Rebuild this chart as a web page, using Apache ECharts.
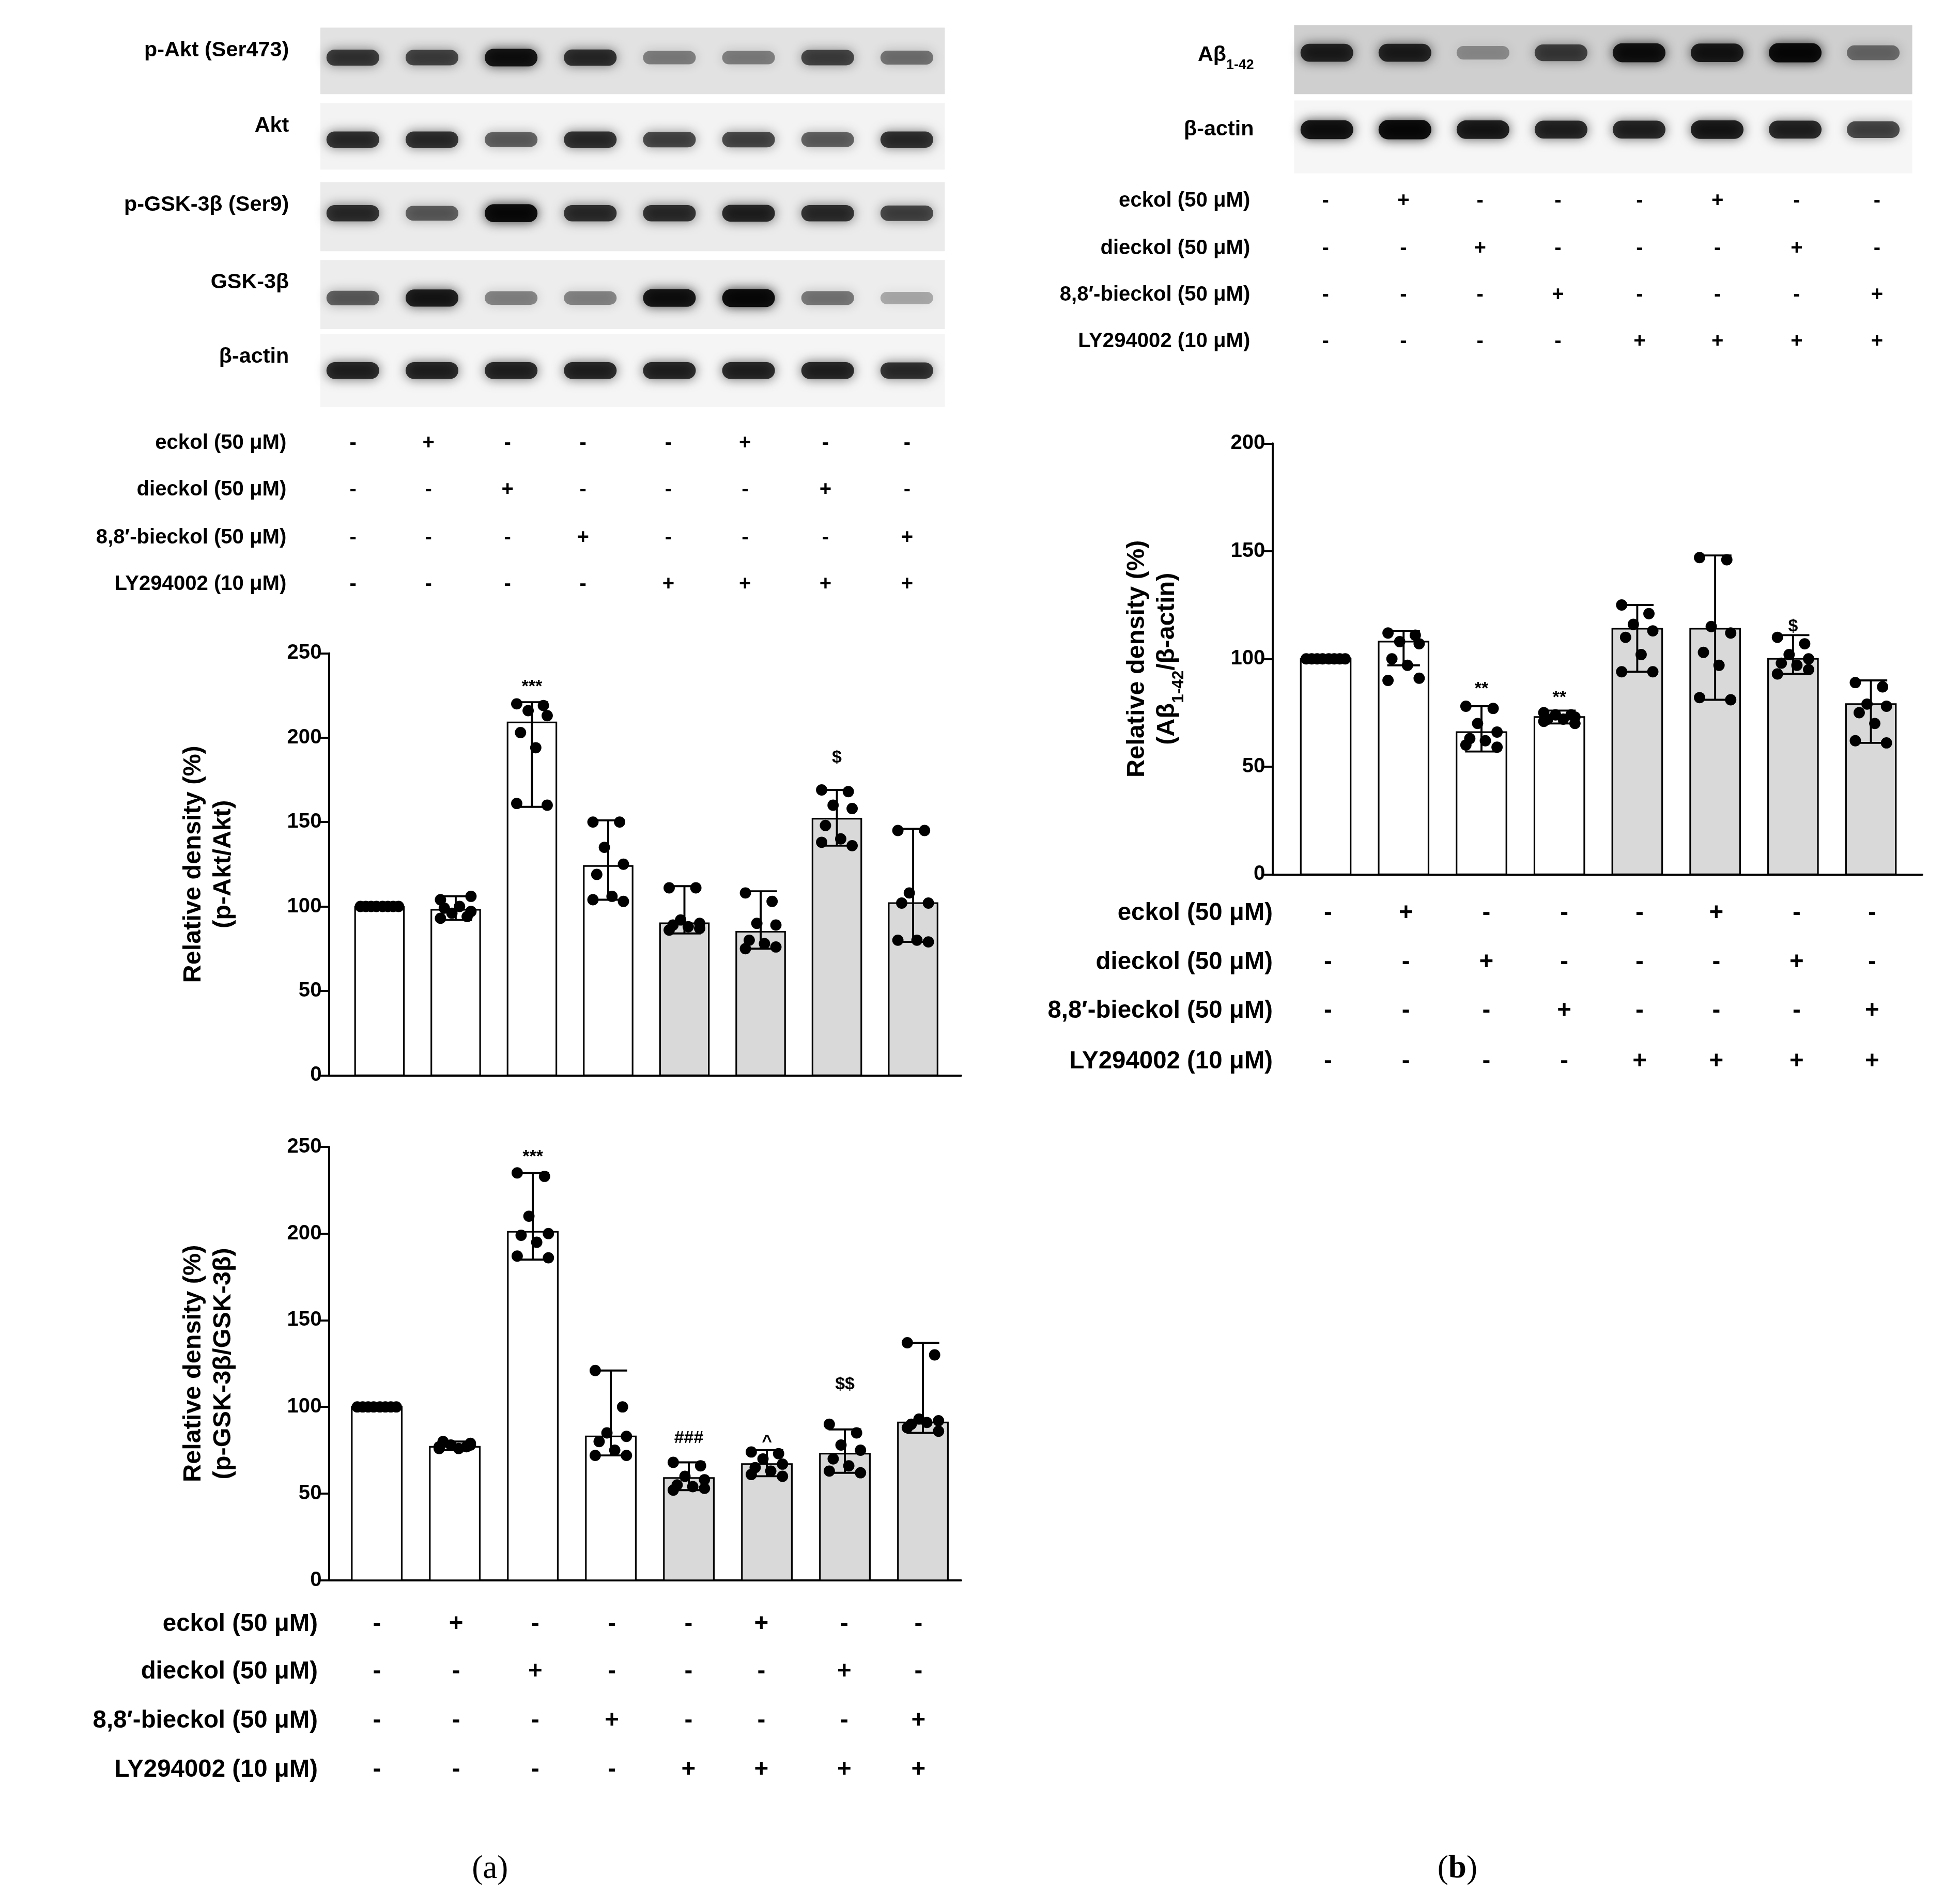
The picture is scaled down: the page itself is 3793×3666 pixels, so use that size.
<!DOCTYPE html>
<html><head><meta charset="utf-8">
<script src="https://cdn.jsdelivr.net/npm/echarts@6/dist/echarts.min.js"></script>
<style>html,body{margin:0;padding:0;background:#fff}#c{width:3793px;height:3666px}</style>
</head><body><div id="c"></div>
<script>
const S = 3793/1560;
const P = v => v*S;
// ---- data ----
const aktMeans = [100, 98, 209, 124, 90, 85, 152, 102];
const aktErr = [[100,100],[92,106],[159,221],[104,151],[84,112],[75,109],[136,169],[79,146]];
const aktPts = [
 [100,100,100,100,100,100,100,100],
 [93,94,96,97,99,100,104,106],
 [220,219,216,213,203,194,161,160],
 [150,150,135,125,119,106,104,103],
 [111,111,92,90,89,88,86,87],
 [108,103,90,89,80,78,75,76],
 [169,168,160,158,148,140,138,136],
 [145,145,108,102,102,80,80,79]];
const aktMarks = [[2,230,'***'],[6,188,'$']];

const gskMeans = [100, 77, 201, 83, 59, 67, 73, 91];
const gskErr = [[100,100],[75,80],[185,235],[72,121],[52,68],[60,75],[62,87],[85,137]];
const gskPts = [
 [100,100,100,100,100,100,100,100],
 [76,77,78,79,80,76,77,78],
 [235,233,210,200,199,195,187,186],
 [121,100,85,83,80,75,72,72],
 [68,66,60,58,55,54,52,53],
 [74,73,70,67,65,63,61,60],
 [90,85,78,75,70,66,63,62],
 [137,130,93,92,90,91,88,86]];
const gskMarks = [[2,244,'***'],[4,82,'###'],[5,80,'^'],[6,113,'$$']];

const abMeans = [100, 108, 66, 73, 114, 114, 100, 79];
const abErr = [[100,100],[97,113],[57,78],[70,76],[94,125],[81,148],[93,111],[61,90]];
const abPts = [
 [100,100,100,100,100,100,100,100],
 [112,111,108,107,100,97,90,91],
 [78,77,70,66,63,62,60,59],
 [75,74,74,73,72,72,71,70],
 [125,121,116,113,110,102,94,94],
 [147,146,115,112,103,97,82,81],
 [110,107,102,100,98,97,93,95],
 [89,87,79,78,75,70,62,61]];
const abMarks = [[2,86,'**'],[3,82,'**'],[6,115,'$']];

const treatLabels = ['eckol (50 μM)','dieckol (50 μM)','8,8′-bieckol (50 μM)','LY294002 (10 μM)'];
const treatRows = [
 ['-','+','-','-','-','+','-','-'],
 ['-','-','+','-','-','-','+','-'],
 ['-','-','-','+','-','-','-','+'],
 ['-','-','-','-','+','+','+','+']];

const blotNamesA = ['p-Akt (Ser473)','Akt','p-GSK-3β (Ser9)','GSK-3β','β-actin'];
const blotA = [
 [0.75,0.7,0.95,0.8,0.45,0.45,0.7,0.5],
 [0.8,0.8,0.6,0.8,0.7,0.7,0.6,0.8],
 [0.8,0.6,1,0.8,0.8,0.85,0.8,0.7],
 [0.6,0.9,0.45,0.45,0.95,1,0.5,0.3],
 [0.85,0.85,0.85,0.85,0.85,0.85,0.85,0.8]];
const blotNamesB = ['Aβ1-42','β-actin'];
const blotB = [
 [0.85,0.85,0.35,0.7,0.95,0.9,1,0.5],
 [0.95,1,0.9,0.85,0.85,0.9,0.85,0.7]];
// ---- layout (display units) ----
const jit = [-0.2,0.15,-0.05,0.2,-0.15,0.05,-0.2,0.2];
const jit0 = [-0.25,-0.18,-0.11,-0.04,0.04,0.11,0.18,0.25];
const FONT = 'Liberation Sans';

const grids=[], xAxes=[], yAxes=[], series=[], graphic=[];

function chart(gx, gy, gw, gh, xmin, xmax, ymax, interval, means, err, pts, marks, name){
  const gi = grids.length;
  grids.push({left:P(gx), top:P(gy), width:P(gw), height:P(gh)});
  xAxes.push({gridIndex:gi, type:'value', min:xmin, max:xmax, axisLine:{show:true,onZero:false,lineStyle:{color:'#000',width:P(1.6)}},
    axisTick:{show:false}, axisLabel:{show:false}, splitLine:{show:false}});
  yAxes.push({gridIndex:gi, type:'value', min:0, max:ymax, interval:interval,
    axisLine:{show:true,onZero:false,lineStyle:{color:'#000',width:P(1.6)}}, axisTick:{show:true,length:P(7),lineStyle:{width:P(1.6)}},
    axisLabel:{color:'#000',fontFamily:FONT,fontWeight:'bold',fontSize:P(16.5),margin:P(6)}, splitLine:{show:false},
    name:name, nameLocation:'middle', nameRotate:90, nameGap:P(72),
    nameTextStyle:{color:'#000',fontFamily:FONT,fontWeight:'bold',fontSize:P(20),lineHeight:P(24),
      rich:{a:{fontFamily:FONT,fontWeight:'bold',fontSize:P(20),lineHeight:P(24),color:'#000'},
            sub:{fontFamily:FONT,fontWeight:'bold',fontSize:P(13),verticalAlign:'bottom',color:'#000',padding:[0,0,-P(4),0]}}}});
  series.push({type:'custom', xAxisIndex:gi, yAxisIndex:gi, data:means.map((m,i)=>[i,m]),
    renderItem:(p,api)=>{const i=api.value(0),m=api.value(1);
      const a=api.coord([i-0.32,m]), b=api.coord([i+0.32,0]);
      return {type:'rect',shape:{x:a[0],y:a[1],width:b[0]-a[0],height:b[1]-a[1]},
        style:{fill:i<4?'#fff':'#d9d9d9',stroke:'#000',lineWidth:P(1.3)}};}});
  series.push({type:'custom', xAxisIndex:gi, yAxisIndex:gi, data:err.map((e,i)=>[i,e[0],e[1]]), z:3,
    renderItem:(p,api)=>{const i=api.value(0);const lo=api.coord([i,api.value(1)]),hi=api.coord([i,api.value(2)]);
      const w=P(13);const st={stroke:'#000',lineWidth:P(1.6)};
      return {type:'group',children:[
        {type:'line',shape:{x1:lo[0],y1:lo[1],x2:hi[0],y2:hi[1]},style:st},
        {type:'line',shape:{x1:lo[0]-w,y1:lo[1],x2:lo[0]+w,y2:lo[1]},style:st},
        {type:'line',shape:{x1:hi[0]-w,y1:hi[1],x2:hi[0]+w,y2:hi[1]},style:st}]};}});
  const d=[];
  pts.forEach((g,i)=>g.forEach((v,j)=>d.push([i+(i===0?jit0[j]:jit[j]),v])));
  series.push({type:'scatter', xAxisIndex:gi, yAxisIndex:gi, data:d, symbolSize:P(9), z:4,
    itemStyle:{color:'#000',opacity:1}});
  series.push({type:'custom', xAxisIndex:gi, yAxisIndex:gi, data:marks, z:5,
    renderItem:(p,api)=>{const c=api.coord([api.value(0),api.value(1)]);
      return {type:'text',x:c[0],y:c[1],style:{text:marks[p.dataIndex][2],fill:'#000',
        font:'bold '+P(14)+'px "'+FONT+'"',textAlign:'center',textVerticalAlign:'middle'}};}});
}

function blot(gx, gy, gw, gh, xmin, xmax, vals, bg, pos, thick){
  const gi=grids.length;
  grids.push({left:P(gx), top:P(gy), width:P(gw), height:P(gh), show:true, backgroundColor:bg, borderWidth:0});
  xAxes.push({gridIndex:gi,type:'value',min:xmin,max:xmax,show:false});
  yAxes.push({gridIndex:gi,type:'value',min:0,max:1,show:false});
  series.push({type:'custom',xAxisIndex:gi,yAxisIndex:gi,data:vals.map((v,i)=>[i,v]),
    renderItem:(p,api)=>{const i=api.value(0),v=api.value(1);
      const c=api.coord([i,pos]); const w=P(42), h=P(thick)*(0.6+0.5*v);
      return {type:'rect',shape:{x:c[0]-w/2,y:c[1]-h/2,width:w,height:h,r:h/2},
        style:{fill:'rgba(0,0,0,'+(v*0.9)+')',shadowBlur:P(9),shadowColor:'rgba(0,0,0,'+(v*0.9)+')'}};}});
}

function label(x,y,t,size,align,extra){
  graphic.push(Object.assign({type:'text',x:P(x),y:P(y),style:{text:t,fill:'#000',font:'bold '+P(size)+'px "'+FONT+'"',
    textAlign:align||'right',textVerticalAlign:'middle'}},extra||{}));
}
function table(lx, ys, xs, size){
  treatLabels.forEach((t,r)=>{
    label(lx, ys[r], t, size, 'right');
    treatRows[r].forEach((s,i)=>label(xs[i], ys[r], s, size, 'center'));
  });
}

// blots A
const rowsA=[[22,53],[82,53],[145,55],[207,55],[266,58]];
const bgA=['#e2e2e2','#f3f3f3','#ebebeb','#ededed','#f5f5f5'];
const posA=[0.55,0.45,0.55,0.45,0.5];
rowsA.forEach((r,k)=>{blot(255,r[0],497,r[1],-0.41,7.48,blotA[k],bgA[k],posA[k],13); label(230,r[0]+18,blotNamesA[k],17,'right');});
// blots B
blot(1030,20,492,55,-0.42,7.5,blotB[0],'#cfcfcf',0.6,14);
blot(1030,80,492,58,-0.42,7.5,blotB[1],'#f6f6f6',0.6,14);
graphic.push({type:'text',x:P(998),y:P(44),style:{text:'{a|Aβ}{s|1-42}',textAlign:'right',textVerticalAlign:'middle',
  rich:{a:{font:'bold '+P(17)+'px "'+FONT+'"',fill:'#000'},s:{font:'bold '+P(11)+'px "'+FONT+'"',fill:'#000',verticalAlign:'bottom',padding:[0,0,-P(5),0]}}}});
label(998,103,blotNamesB[1],17,'right');

// charts
chart(262,520,503,336,-0.66,7.63,250,50,aktMeans,aktErr,aktPts,aktMarks,'Relative density (%)\n(p-Akt/Akt)');
chart(262,913,503,345,-0.61,7.49,250,50,gskMeans,gskErr,gskPts,gskMarks,'Relative density (%)\n(p-GSK-3β/GSK-3β)');
chart(1013,353,517,343,-0.68,7.66,200,50,abMeans,abErr,abPts,abMarks,'{a|Relative density (%)}\n{a|(Aβ}{sub|1-42}{a|/β-actin)}');

// tables
table(228,[353,390,428,465],[281,341,404,464,532,593,657,722],16.5);
table(253,[1293,1331,1370,1409],[300,363,426,487,548,606,672,731],19.5);
table(995,[160,198,235,272],[1055,1117,1178,1240,1305,1367,1430,1494],16.5);
table(1013,[727,766,805,845],[1057,1119,1183,1245,1305,1366,1430,1490],19.5);

graphic.push({type:'text',x:P(390),y:P(1488),style:{text:'(a)',font:P(26)+'px "Liberation Serif"',fill:'#000',textAlign:'center',textVerticalAlign:'middle'}});
graphic.push({type:'text',x:P(1160),y:P(1488),style:{text:'{n|(}{b|b}{n|)}',textAlign:'center',textVerticalAlign:'middle',
  rich:{n:{font:P(26)+'px "Liberation Serif"',fill:'#000'},b:{font:'bold '+P(26)+'px "Liberation Serif"',fill:'#000'}}}});

const ch=echarts.init(document.getElementById('c'));
ch.setOption({animation:false,backgroundColor:'#fff',grid:grids,xAxis:xAxes,yAxis:yAxes,series:series,graphic:graphic});
</script></body></html>
